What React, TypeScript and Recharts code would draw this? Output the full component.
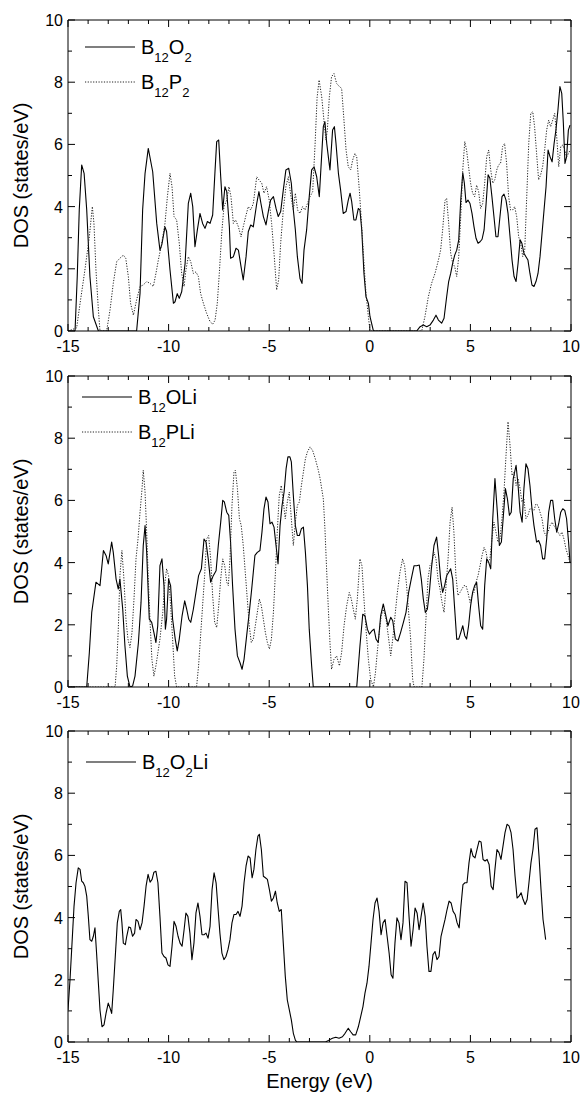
import React from "react";
import { LineChart, Line, XAxis, YAxis, Legend } from "recharts";

const FONT = "'Liberation Sans', Arial, Helvetica, sans-serif";

// axes
const energyTicks = [-15, -14, -13, -12, -11, -10, -9, -8, -7, -6, -5, -4, -3, -2, -1, 0, 1, 2, 3, 4, 5, 6, 7, 8, 9, 10];
const energyLabels = [-15, -10, -5, 0, 5, 10];
const dosTicks = [0, 1, 2, 3, 4, 5, 6, 7, 8, 9, 10];
const dosLabels = [0, 2, 4, 6, 8, 10];

// [energy (eV), DOS (states/eV)]
const b12o2 = [
  [-15, 0], [-14.65, 0], [-14.54, 1.75], [-14.44, 3.9], [-14.32, 5.34], [-14.2, 5.07], [-14.07, 3.9], [-13.91, 1.75],
  [-13.74, 0.46], [-13.49, 0], [-11.59, 0], [-11.42, 1.21], [-11.29, 3.9], [-11.17, 5.07], [-11.01, 5.87], [-10.79, 5.12],
  [-10.59, 3.46], [-10.43, 2.6], [-10.34, 2.77], [-10.18, 3.35], [-10.1, 3.2], [-9.93, 1.96], [-9.76, 0.89], [-9.68, 0.94],
  [-9.57, 1.2], [-9.47, 1.05], [-9.35, 1.26], [-9.18, 2.17], [-9.02, 4.1], [-8.9, 4.43], [-8.8, 4.0], [-8.69, 2.71],
  [-8.57, 3.25], [-8.44, 3.78], [-8.31, 3.46], [-8.19, 3.3], [-8.07, 3.52], [-7.94, 3.46], [-7.81, 3.73], [-7.69, 5.18],
  [-7.61, 6.09], [-7.51, 6.14], [-7.41, 4.96], [-7.31, 3.89], [-7.2, 4.64], [-7.11, 4.48], [-6.98, 3.35], [-6.92, 2.34],
  [-6.78, 2.39], [-6.65, 2.66], [-6.53, 2.6], [-6.4, 2.07], [-6.29, 1.64], [-6.15, 2.39], [-6.04, 3.19], [-5.92, 3.41],
  [-5.79, 3.35], [-5.62, 4.1], [-5.51, 4.48], [-5.41, 4.1], [-5.29, 3.68], [-5.16, 3.41], [-5.03, 3.89], [-4.93, 4.21],
  [-4.79, 4.32], [-4.66, 3.94], [-4.55, 3.68], [-4.43, 3.84], [-4.3, 4.53], [-4.17, 5.18], [-4.03, 5.23], [-3.9, 4.75],
  [-3.8, 3.89], [-3.7, 3.25], [-3.6, 2.39], [-3.47, 1.69], [-3.37, 1.53], [-3.27, 2.6], [-3.14, 3.25], [-3.01, 4.32],
  [-2.89, 5.18], [-2.77, 5.28], [-2.64, 4.96], [-2.51, 4.32], [-2.31, 6.57], [-2.23, 6.73], [-2.14, 6.03], [-2.06, 5.6],
  [-1.98, 5.18], [-1.85, 6.46], [-1.76, 6.57], [-1.68, 6.03], [-1.56, 5.07], [-1.45, 4.53], [-1.32, 3.78], [-1.18, 3.84],
  [-1.07, 4.21], [-0.98, 4.43], [-0.9, 4.16], [-0.79, 3.57], [-0.69, 3.57], [-0.57, 3.94], [-0.49, 3.89], [-0.4, 3.25],
  [-0.29, 1.85], [-0.19, 1.1], [-0.07, 0.89], [0.01, 0.46], [0.18, 0], [2.33, 0], [2.5, 0.14], [2.66, 0.19],
  [2.83, 0.14], [2.99, 0.19], [3.16, 0.35], [3.29, 0.51], [3.41, 0.35], [3.57, 0.25], [3.69, 0.41], [3.82, 1.1],
  [3.92, 1.59], [4.02, 1.85], [4.12, 2.18], [4.22, 2.44], [4.32, 2.6], [4.42, 2.93], [4.52, 4.21], [4.62, 5.09],
  [4.7, 4.75], [4.78, 4.13], [4.88, 4.21], [4.98, 4.1], [5.08, 3.78], [5.18, 3.35], [5.28, 2.98], [5.38, 2.82],
  [5.48, 2.87], [5.58, 2.95], [5.68, 3.25], [5.78, 4.1], [5.88, 5.02], [5.97, 4.91], [6.07, 4.32], [6.17, 3.68],
  [6.27, 3.03], [6.37, 3.03], [6.47, 3.68], [6.57, 4.32], [6.67, 4.4], [6.77, 4.21], [6.87, 3.78], [6.97, 3.03],
  [7.07, 2.28], [7.17, 1.75], [7.27, 1.59], [7.37, 2.18], [7.47, 2.93], [7.56, 2.82], [7.66, 2.5], [7.76, 2.39],
  [7.86, 2.28], [7.96, 1.85], [8.06, 1.48], [8.16, 1.43], [8.26, 1.59], [8.36, 1.85], [8.46, 2.39], [8.56, 3.14],
  [8.66, 3.89], [8.76, 4.64], [8.86, 5.82], [8.96, 5.6], [9.06, 5.44], [9.16, 6.03], [9.25, 6.46], [9.35, 7.1],
  [9.45, 7.86], [9.54, 7.64], [9.62, 6.68], [9.7, 5.39], [9.78, 5.6], [9.87, 6.46], [9.95, 6.62],
];

const b12p2 = [
  [-15, 0], [-14.57, 0.1], [-14.4, 0.89], [-14.16, 1.96], [-13.94, 3.03], [-13.79, 4.0], [-13.71, 3.46], [-13.61, 1.96],
  [-13.49, 0.68], [-13.41, 0], [-13.08, 0], [-12.91, 0.68], [-12.75, 1.53], [-12.58, 2.23], [-12.42, 2.34], [-12.25, 2.44],
  [-12.13, 2.34], [-12.0, 1.75], [-11.89, 0.89], [-11.75, 0.51], [-11.59, 1.0], [-11.42, 1.43], [-11.26, 1.48], [-11.09, 1.59],
  [-10.92, 1.53], [-10.76, 1.43], [-10.63, 1.85], [-10.51, 2.28], [-10.34, 2.82], [-10.18, 3.46], [-10.06, 4.32], [-9.93, 5.07],
  [-9.83, 4.64], [-9.73, 3.68], [-9.6, 3.57], [-9.47, 2.82], [-9.35, 1.85], [-9.23, 1.43], [-9.14, 1.96], [-9.02, 2.39],
  [-8.9, 2.23], [-8.77, 1.85], [-8.64, 1.9], [-8.52, 1.75], [-8.41, 1.21], [-8.27, 0.89], [-8.11, 0.57], [-7.94, 0.3],
  [-7.81, 0.22], [-7.69, 0.35], [-7.58, 0.89], [-7.48, 1.85], [-7.36, 3.14], [-7.25, 4.0], [-7.11, 4.21], [-7.0, 4.64],
  [-6.9, 4.32], [-6.78, 3.46], [-6.67, 3.57], [-6.53, 3.35], [-6.4, 3.03], [-6.29, 3.35], [-6.17, 3.68], [-6.04, 4.0],
  [-5.92, 3.89], [-5.79, 4.1], [-5.62, 4.96], [-5.51, 4.86], [-5.37, 4.75], [-5.26, 4.43], [-5.13, 4.64], [-5.0, 4.21],
  [-4.88, 3.46], [-4.76, 2.5], [-4.63, 1.32], [-4.53, 1.64], [-4.43, 2.82], [-4.3, 3.89], [-4.17, 4.64], [-4.05, 4.96],
  [-3.92, 4.32], [-3.8, 3.89], [-3.7, 4.43], [-3.59, 3.89], [-3.47, 3.78], [-3.34, 4.0], [-3.22, 3.89], [-3.1, 4.1],
  [-2.97, 4.32], [-2.84, 4.48], [-2.72, 6.0], [-2.62, 7.5], [-2.52, 8.07], [-2.39, 7.53], [-2.28, 6.78], [-2.18, 6.14],
  [-2.11, 6.46], [-2.01, 7.53], [-1.9, 8.18], [-1.78, 8.28], [-1.65, 7.96], [-1.51, 7.86], [-1.4, 7.8], [-1.32, 7.1],
  [-1.18, 5.82], [-1.07, 5.28], [-0.95, 5.18], [-0.85, 5.5], [-0.74, 5.71], [-0.65, 5.6], [-0.52, 4.53], [-0.4, 3.35],
  [-0.29, 2.18], [-0.19, 1.21], [-0.07, 0.46], [0.01, 0], [2.58, 0], [2.74, 0.46], [2.91, 1.1], [3.07, 1.53],
  [3.24, 1.85], [3.41, 2.28], [3.52, 2.6], [3.62, 3.25], [3.74, 4.21], [3.82, 4.26], [3.92, 3.46], [4.02, 2.5],
  [4.12, 2.18], [4.22, 2.07], [4.32, 1.75], [4.42, 2.39], [4.52, 3.68], [4.62, 5.18], [4.72, 6.09], [4.81, 5.82],
  [4.91, 5.28], [5.01, 4.75], [5.11, 4.43], [5.21, 4.32], [5.31, 4.69], [5.41, 4.48], [5.51, 3.94], [5.61, 4.1],
  [5.71, 4.75], [5.81, 5.6], [5.91, 5.82], [6.01, 5.18], [6.11, 4.75], [6.21, 4.86], [6.31, 5.18], [6.4, 5.34],
  [6.5, 5.39], [6.6, 5.93], [6.7, 6.03], [6.8, 5.39], [6.9, 4.32], [7.0, 3.89], [7.1, 3.89], [7.2, 4.0],
  [7.3, 3.68], [7.4, 3.03], [7.5, 2.82], [7.6, 2.39], [7.7, 2.6], [7.8, 4.32], [7.9, 6.03], [8.0, 7.0],
  [8.1, 7.05], [8.19, 6.57], [8.29, 5.71], [8.39, 4.86], [8.49, 5.02], [8.59, 5.28], [8.69, 5.82], [8.79, 6.46],
  [8.89, 6.78], [8.99, 6.57], [9.09, 6.78], [9.19, 7.0], [9.29, 6.25], [9.39, 5.28], [9.49, 5.93], [9.59, 5.98],
  [9.69, 5.82], [9.78, 5.6], [9.88, 5.71], [9.95, 5.82],
];

const b12oli = [
  [-15, 0], [-14.07, 0], [-13.94, 1.1], [-13.82, 2.4], [-13.61, 3.37], [-13.41, 3.26], [-13.24, 4.39], [-13.11, 4.23],
  [-13.0, 3.96], [-12.83, 4.66], [-12.75, 4.33], [-12.61, 3.47], [-12.5, 3.15], [-12.42, 3.47], [-12.28, 2.5], [-12.17, 1.32],
  [-12.05, 0.35], [-11.92, 0], [-11.79, 0.03], [-11.67, 0.35], [-11.5, 1.43], [-11.37, 2.72], [-11.26, 4.55], [-11.17, 5.19],
  [-11.09, 4.33], [-10.96, 2.18], [-10.84, 2.08], [-10.73, 1.75], [-10.63, 1.43], [-10.54, 1.97], [-10.43, 3.9], [-10.33, 4.12],
  [-10.23, 3.26], [-10.16, 1.86], [-10.1, 2.18], [-10.0, 3.47], [-9.9, 3.26], [-9.8, 2.18], [-9.67, 1.54], [-9.57, 1.16],
  [-9.47, 1.54], [-9.33, 2.29], [-9.2, 2.77], [-9.1, 2.5], [-9.0, 2.18], [-8.9, 2.08], [-8.77, 2.5], [-8.64, 3.04],
  [-8.51, 3.58], [-8.37, 3.8], [-8.24, 4.76], [-8.14, 4.66], [-8.03, 4.12], [-7.91, 3.37], [-7.78, 3.58], [-7.64, 3.74],
  [-7.53, 4.55], [-7.41, 5.3], [-7.31, 6.0], [-7.23, 5.95], [-7.11, 5.62], [-7.01, 5.52], [-6.92, 4.66], [-6.82, 3.26],
  [-6.7, 1.86], [-6.58, 1.0], [-6.45, 0.78], [-6.35, 0.57], [-6.25, 0.89], [-6.12, 1.65], [-5.99, 2.4], [-5.87, 3.15],
  [-5.79, 3.69], [-5.71, 4.23], [-5.59, 4.33], [-5.46, 4.39], [-5.36, 4.98], [-5.26, 5.73], [-5.16, 6.11], [-5.06, 5.95],
  [-4.96, 5.25], [-4.86, 5.3], [-4.76, 5.14], [-4.66, 4.55], [-4.56, 3.96], [-4.46, 5.19], [-4.36, 5.84], [-4.26, 6.27],
  [-4.16, 7.02], [-4.07, 7.4], [-3.97, 7.4], [-3.9, 7.24], [-3.8, 6.16], [-3.7, 5.19], [-3.6, 4.87], [-3.5, 4.87],
  [-3.4, 5.09], [-3.3, 5.14], [-3.2, 4.33], [-3.1, 3.26], [-3.01, 1.86], [-2.89, 0.68], [-2.81, 0], [-0.65, 0],
  [-0.49, 1.32], [-0.35, 2.34], [-0.24, 2.29], [-0.12, 1.86], [-0.02, 1.7], [0.11, 1.81], [0.21, 1.86], [0.31, 1.54],
  [0.42, 1.43], [0.54, 2.29], [0.67, 2.67], [0.8, 2.29], [0.9, 1.97], [1.04, 2.24], [1.14, 2.13], [1.27, 1.54],
  [1.4, 1.48], [1.53, 1.75], [1.67, 2.08], [1.8, 2.4], [1.93, 3.04], [2.06, 3.47], [2.2, 3.9], [2.33, 3.9],
  [2.46, 3.92], [2.56, 3.47], [2.66, 2.83], [2.76, 2.4], [2.86, 2.5], [2.96, 3.04], [3.06, 3.8], [3.19, 4.55],
  [3.32, 4.82], [3.42, 4.23], [3.52, 3.47], [3.62, 3.04], [3.72, 3.26], [3.82, 3.58], [3.92, 3.69], [4.02, 3.8],
  [4.12, 3.47], [4.22, 2.5], [4.32, 1.54], [4.42, 1.54], [4.52, 1.75], [4.62, 1.97], [4.72, 1.65], [4.81, 1.54],
  [4.91, 1.97], [5.01, 2.61], [5.11, 3.04], [5.21, 3.26], [5.31, 3.37], [5.41, 2.61], [5.51, 1.97], [5.61, 1.86],
  [5.71, 3.26], [5.81, 4.12], [5.91, 4.01], [6.01, 3.8], [6.11, 5.41], [6.22, 6.7], [6.34, 5.62], [6.44, 4.55],
  [6.54, 4.66], [6.64, 5.52], [6.74, 6.38], [6.84, 6.05], [6.94, 5.52], [7.03, 5.62], [7.13, 6.7], [7.27, 7.13],
  [7.37, 6.48], [7.47, 5.62], [7.57, 5.3], [7.66, 6.38], [7.76, 7.18], [7.86, 7.02], [7.96, 6.48], [8.06, 5.73],
  [8.16, 5.19], [8.29, 4.66], [8.39, 4.71], [8.49, 4.55], [8.59, 4.12], [8.69, 4.12], [8.79, 4.76], [8.89, 5.62],
  [8.99, 6.0], [9.09, 6.0], [9.19, 5.41], [9.29, 4.98], [9.39, 5.25], [9.49, 5.62], [9.59, 5.73], [9.69, 5.68],
  [9.78, 5.41], [9.88, 4.66], [9.95, 4.01],
];

const b12pli = [
  [-15, 0], [-12.66, 0], [-12.58, 0.68], [-12.5, 1.86], [-12.42, 3.58], [-12.32, 4.39], [-12.22, 3.47], [-12.12, 2.18],
  [-12.02, 1.54], [-11.92, 1.27], [-11.82, 1.75], [-11.72, 2.83], [-11.62, 4.12], [-11.52, 4.76], [-11.42, 5.62], [-11.32, 6.38],
  [-11.26, 6.97], [-11.17, 6.27], [-11.09, 4.98], [-11.01, 3.47], [-10.92, 2.08], [-10.83, 0.89], [-10.73, 0.35], [-10.63, 0.68],
  [-10.53, 1.11], [-10.43, 1.54], [-10.29, 2.4], [-10.2, 3.26], [-10.1, 3.8], [-10.0, 3.58], [-9.9, 2.61], [-9.8, 1.54],
  [-9.7, 0.35], [-9.6, 0], [-8.61, 0], [-8.51, 0.68], [-8.41, 1.65], [-8.31, 2.61], [-8.21, 3.58], [-8.11, 4.76],
  [-8.01, 4.87], [-7.91, 4.12], [-7.81, 2.94], [-7.71, 2.08], [-7.61, 1.91], [-7.51, 2.61], [-7.41, 3.47], [-7.31, 4.12],
  [-7.21, 3.9], [-7.11, 3.37], [-7.03, 3.26], [-6.95, 4.12], [-6.85, 5.84], [-6.75, 6.91], [-6.68, 6.97], [-6.58, 6.38],
  [-6.48, 5.41], [-6.39, 5.19], [-6.29, 4.55], [-6.19, 3.69], [-6.09, 2.83], [-5.99, 1.97], [-5.89, 1.43], [-5.79, 1.54],
  [-5.69, 1.97], [-5.59, 2.4], [-5.49, 2.83], [-5.39, 2.61], [-5.29, 2.18], [-5.19, 1.75], [-5.09, 1.43], [-4.99, 1.22],
  [-4.89, 1.54], [-4.79, 2.4], [-4.69, 3.69], [-4.6, 4.98], [-4.5, 6.16], [-4.4, 6.48], [-4.3, 5.95], [-4.2, 5.41],
  [-4.1, 5.95], [-4.0, 6.27], [-3.9, 5.41], [-3.8, 4.55], [-3.7, 5.3], [-3.6, 5.84], [-3.5, 5.95], [-3.4, 6.48],
  [-3.3, 6.91], [-3.2, 7.34], [-3.1, 7.56], [-2.97, 7.72], [-2.84, 7.6], [-2.71, 7.34], [-2.57, 7.0], [-2.47, 6.7],
  [-2.31, 6.05], [-2.23, 5.09], [-2.14, 3.69], [-2.06, 2.5], [-1.98, 1.43], [-1.9, 0.57], [-1.78, 0.89], [-1.65, 1.0],
  [-1.51, 0.68], [-1.4, 1.11], [-1.28, 1.97], [-1.15, 2.61], [-1.02, 3.04], [-0.92, 2.83], [-0.82, 2.5], [-0.72, 2.18],
  [-0.62, 2.83], [-0.49, 4.12], [-0.39, 3.9], [-0.29, 2.83], [-0.19, 1.86], [-0.07, 0.89], [0.04, 0.25], [0.18, 0],
  [0.28, 0.46], [0.37, 1.11], [0.47, 1.75], [0.57, 2.29], [0.67, 2.5], [0.81, 2.18], [0.94, 1.54], [1.04, 1.0],
  [1.14, 1.54], [1.27, 2.4], [1.37, 3.04], [1.5, 3.69], [1.63, 4.12], [1.73, 3.9], [1.83, 3.26], [1.93, 2.4],
  [2.03, 1.54], [2.13, 0.25], [2.2, 0], [2.59, 0], [2.69, 0.89], [2.79, 2.18], [2.89, 3.47], [2.99, 3.9],
  [3.09, 4.01], [3.19, 4.33], [3.29, 4.12], [3.39, 3.47], [3.49, 3.15], [3.59, 2.72], [3.69, 2.4], [3.79, 3.26],
  [3.89, 4.12], [3.99, 5.3], [4.09, 5.78], [4.18, 4.98], [4.28, 3.58], [4.38, 2.94], [4.48, 3.04], [4.58, 3.15],
  [4.68, 3.26], [4.78, 3.26], [4.88, 3.04], [4.98, 2.72], [5.08, 2.94], [5.18, 3.04], [5.28, 3.37], [5.38, 3.58],
  [5.48, 3.9], [5.58, 4.23], [5.68, 4.49], [5.78, 4.33], [5.87, 4.01], [5.97, 4.12], [6.07, 4.76], [6.17, 5.3],
  [6.27, 4.98], [6.37, 4.66], [6.47, 4.76], [6.57, 5.41], [6.67, 6.27], [6.77, 7.45], [6.87, 8.53], [6.97, 7.77],
  [7.07, 6.8], [7.17, 6.91], [7.27, 6.48], [7.37, 6.7], [7.47, 6.38], [7.56, 5.95], [7.66, 6.05], [7.76, 5.41],
  [7.86, 5.52], [7.96, 5.73], [8.06, 5.73], [8.16, 5.68], [8.26, 5.89], [8.36, 5.84], [8.46, 5.62], [8.56, 5.41],
  [8.66, 4.98], [8.76, 4.87], [8.86, 4.98], [8.96, 5.19], [9.06, 5.3], [9.15, 5.19], [9.25, 5.09], [9.35, 4.98],
  [9.45, 4.87], [9.55, 4.98], [9.65, 4.76], [9.75, 4.44], [9.85, 4.23], [9.95, 4.01],
];

const b12o2li = [
  [-15, 1.03], [-14.9, 2.0], [-14.8, 3.18], [-14.7, 4.37], [-14.6, 5.12], [-14.49, 5.6], [-14.4, 5.55], [-14.32, 5.17],
  [-14.24, 5.12], [-14.16, 5.01], [-14.07, 4.69], [-13.99, 4.04], [-13.91, 3.29], [-13.82, 3.24], [-13.74, 3.4], [-13.66, 3.67],
  [-13.58, 2.86], [-13.49, 1.89], [-13.41, 1.03], [-13.31, 0.49], [-13.21, 0.55], [-13.11, 0.92], [-13.0, 1.25], [-12.91, 1.09],
  [-12.83, 0.92], [-12.75, 1.68], [-12.65, 2.75], [-12.55, 3.83], [-12.45, 4.2], [-12.38, 4.26], [-12.32, 3.83], [-12.25, 3.18],
  [-12.15, 3.13], [-12.08, 3.4], [-11.98, 3.7], [-11.89, 3.67], [-11.79, 3.4], [-11.69, 3.5], [-11.62, 3.94], [-11.52, 3.88],
  [-11.42, 3.61], [-11.32, 3.83], [-11.22, 4.37], [-11.12, 5.01], [-11.02, 5.39], [-10.92, 5.14], [-10.82, 5.23], [-10.73, 5.46],
  [-10.63, 5.49], [-10.53, 5.12], [-10.43, 4.04], [-10.33, 2.86], [-10.23, 2.75], [-10.13, 2.7], [-10.03, 2.48], [-9.93, 2.43],
  [-9.83, 3.08], [-9.73, 3.88], [-9.63, 3.72], [-9.53, 3.4], [-9.43, 3.18], [-9.33, 3.08], [-9.23, 3.61], [-9.14, 4.15],
  [-9.04, 4.04], [-8.94, 3.5], [-8.84, 2.65], [-8.74, 3.18], [-8.64, 4.15], [-8.54, 4.47], [-8.44, 4.04], [-8.34, 3.45],
  [-8.24, 3.45], [-8.14, 3.5], [-8.04, 3.34], [-7.94, 3.72], [-7.84, 4.9], [-7.74, 5.44], [-7.64, 5.12], [-7.54, 4.26],
  [-7.45, 3.5], [-7.35, 2.86], [-7.25, 2.65], [-7.15, 2.75], [-7.05, 2.97], [-6.95, 3.29], [-6.85, 3.83], [-6.75, 4.1],
  [-6.65, 4.1], [-6.55, 4.2], [-6.45, 4.04], [-6.35, 4.37], [-6.25, 5.12], [-6.15, 5.66], [-6.05, 5.98], [-5.95, 5.92],
  [-5.85, 5.28], [-5.76, 5.55], [-5.66, 6.19], [-5.56, 6.62], [-5.49, 6.68], [-5.39, 6.19], [-5.29, 5.33], [-5.19, 5.28],
  [-5.09, 5.23], [-4.99, 4.9], [-4.89, 4.53], [-4.79, 4.63], [-4.69, 4.85], [-4.6, 4.47], [-4.5, 4.2], [-4.4, 4.26],
  [-4.3, 3.18], [-4.2, 2.11], [-4.1, 1.35], [-4.0, 1.03], [-3.9, 0.71], [-3.8, 0.28], [-3.7, 0.06], [-3.63, 0],
  [-2.2, 0], [-2.03, 0.06], [-1.86, 0.12], [-1.69, 0.15], [-1.53, 0.12], [-1.36, 0.17], [-1.23, 0.28], [-1.07, 0.44],
  [-0.95, 0.33], [-0.83, 0.23], [-0.7, 0.23], [-0.57, 0.49], [-0.45, 0.82], [-0.34, 1.14], [-0.24, 1.57], [-0.14, 1.89],
  [-0.04, 2.43], [0.06, 3.18], [0.16, 3.94], [0.26, 4.47], [0.36, 4.63], [0.46, 4.2], [0.56, 3.45], [0.66, 3.83],
  [0.76, 3.94], [0.86, 3.4], [0.96, 2.86], [1.06, 2.16], [1.15, 2.05], [1.25, 3.18], [1.35, 3.99], [1.45, 3.83],
  [1.55, 3.29], [1.65, 3.83], [1.75, 5.17], [1.85, 5.12], [1.95, 4.04], [2.05, 3.08], [2.15, 3.61], [2.25, 4.31],
  [2.35, 4.15], [2.45, 3.61], [2.55, 4.04], [2.65, 4.47], [2.75, 4.04], [2.84, 3.08], [2.94, 2.27], [3.04, 2.27],
  [3.14, 2.81], [3.24, 2.91], [3.34, 2.65], [3.44, 2.75], [3.54, 3.4], [3.64, 3.67], [3.74, 3.94], [3.84, 4.26],
  [3.94, 4.53], [4.04, 4.47], [4.14, 4.2], [4.24, 4.1], [4.34, 3.83], [4.44, 3.67], [4.53, 4.37], [4.63, 5.06],
  [4.73, 5.12], [4.83, 5.12], [4.93, 5.76], [5.03, 6.22], [5.13, 5.98], [5.23, 5.92], [5.33, 6.19], [5.43, 6.46],
  [5.53, 6.43], [5.63, 5.87], [5.73, 5.82], [5.83, 5.87], [5.93, 5.71], [6.03, 5.01], [6.13, 4.9], [6.22, 5.55],
  [6.32, 6.19], [6.42, 6.09], [6.52, 5.87], [6.62, 6.3], [6.72, 6.73], [6.82, 7.0], [6.92, 6.95], [7.02, 6.73],
  [7.12, 6.19], [7.22, 5.33], [7.32, 4.63], [7.42, 4.69], [7.52, 4.8], [7.62, 4.58], [7.72, 4.42], [7.82, 4.58],
  [7.91, 5.12], [8.01, 5.76], [8.11, 6.19], [8.21, 6.84], [8.31, 6.89], [8.41, 5.98], [8.51, 4.9], [8.61, 3.94],
  [8.68, 3.61], [8.74, 3.29],
];

type Series = { name: string; points: number[][]; dotted?: boolean };

const PLOT_TOP = 20; // inside each chart
const PLOT_H = 311;
const SOLID = "#000";
const DOTTED = "#222";
const DASH = "1.2 1.5";

function BottomTick(props: any) {
  const { x, y, payload } = props;
  const major = energyLabels.includes(payload.value);
  return (
    <g>
      <line x1={x} y1={y} x2={x} y2={y - (major ? 7 : 4)} stroke="#000" />
      {major && (
        <text x={x} y={y + 21} textAnchor="middle" fontSize={16} fontFamily={FONT} fill="#000">
          {payload.value}
        </text>
      )}
    </g>
  );
}

function TopTick(props: any) {
  const { x, y, payload } = props;
  const major = energyLabels.includes(payload.value);
  return <line x1={x} y1={y} x2={x} y2={y + (major ? 7 : 4)} stroke="#000" />;
}

function LeftTick(props: any) {
  const { x, y, payload } = props;
  const major = dosLabels.includes(payload.value);
  return (
    <g>
      <line x1={x} y1={y} x2={x + (major ? 7 : 4)} y2={y} stroke="#000" />
      {major && (
        <text x={x - 5} y={y + 6} textAnchor="end" fontSize={16} fontFamily={FONT} fill="#000">
          {payload.value}
        </text>
      )}
    </g>
  );
}

function RightTick(props: any) {
  const { x, y, payload } = props;
  const major = dosLabels.includes(payload.value);
  return <line x1={x} y1={y} x2={x - (major ? 7 : 4)} y2={y} stroke="#000" />;
}

function YTitle() {
  const cx = 21;
  const cy = PLOT_TOP + PLOT_H / 2;
  return (
    <text x={cx} y={cy} dy="0.36em" transform={`rotate(-90 ${cx} ${cy})`} textAnchor="middle"
      fontSize={20} fontFamily={FONT} fill="#000">
      DOS (states/eV)
    </text>
  );
}

function XTitle() {
  return (
    <text x={319.5} y={PLOT_TOP + PLOT_H + 46} textAnchor="middle" fontSize={20} fontFamily={FONT} fill="#000">
      Energy (eV)
    </text>
  );
}

// "B12O2Li" -> B, subscript 12, O, subscript 2, Li
function Formula({ name }: { name: string }) {
  const runs = name.match(/\d+|\D+/g) || [];
  let low = false;
  return (
    <>
      {runs.map((r, i) => {
        const sub = /\d/.test(r);
        const dy = sub && !low ? 8 : !sub && low ? -8 : 0;
        low = sub;
        return (
          <tspan key={i} fontSize={sub ? 13 : 20} dy={dy}>
            {r}
          </tspan>
        );
      })}
    </>
  );
}

function LegendBox({ series }: { series: Series[] }) {
  return (
    <svg width={200} height={series.length * 35} style={{ display: "block", overflow: "visible" }}>
      {series.map((s, i) => {
        const ly = 12 + i * 35;
        return (
          <g key={s.name}>
            <line x1={5} x2={55} y1={ly} y2={ly} stroke={s.dotted ? DOTTED : SOLID}
              strokeWidth={s.dotted ? 1 : 1.1} strokeDasharray={s.dotted ? DASH : undefined} />
            <text x={61} y={ly + 7} fontFamily={FONT} fill="#000">
              <Formula name={s.name} />
            </text>
          </g>
        );
      })}
    </svg>
  );
}

function Panel({ top, height, series, legendTop, legendLeft, xTitle }: {
  top: number; height: number; series: Series[]; legendTop: number; legendLeft: number; xTitle?: boolean;
}) {
  const bottomH = height - PLOT_TOP - PLOT_H;
  return (
    <div style={{ position: "absolute", left: 0, top }}>
      <LineChart width={583} height={height} margin={{ top: PLOT_TOP - 1, right: 11, bottom: 0, left: 0 }}>
        <XAxis xAxisId="b" type="number" dataKey="e" domain={[-15, 10]} allowDataOverflow ticks={energyTicks}
          interval={0} height={bottomH} tickSize={0} tickMargin={0} tickLine={false}
          axisLine={{ stroke: "#000" }} tick={(p: any) => <BottomTick {...p} />}
          label={xTitle ? <XTitle /> : undefined} />
        <XAxis xAxisId="t" orientation="top" type="number" dataKey="e" domain={[-15, 10]} allowDataOverflow
          ticks={energyTicks} interval={0} height={1} tickSize={0} tickMargin={0} tickLine={false}
          axisLine={{ stroke: "#000" }} tick={(p: any) => <TopTick {...p} />} />
        <YAxis yAxisId="l" type="number" domain={[0, 10]} allowDataOverflow ticks={dosTicks} interval={0}
          width={68} tickSize={0} tickMargin={0} tickLine={false} axisLine={{ stroke: "#000" }}
          tick={(p: any) => <LeftTick {...p} />} label={<YTitle />} />
        <YAxis yAxisId="r" orientation="right" type="number" domain={[0, 10]} allowDataOverflow ticks={dosTicks}
          interval={0} width={1} tickSize={0} tickMargin={0} tickLine={false} axisLine={{ stroke: "#000" }}
          tick={(p: any) => <RightTick {...p} />} />
        {series.map((s) => (
          <Line key={s.name} xAxisId="b" yAxisId="l" name={s.name} type="linear" dataKey="v"
            data={s.points.map(([e, v]) => ({ e, v }))}
            stroke={s.dotted ? DOTTED : SOLID} strokeWidth={s.dotted ? 1 : 1.1}
            strokeDasharray={s.dotted ? DASH : undefined} strokeLinejoin="round"
            dot={false} activeDot={false} isAnimationActive={false} />
        ))}
        <Legend layout="vertical" align="center" verticalAlign="middle"
          wrapperStyle={{ top: legendTop, left: legendLeft, width: 200 }}
          content={() => <LegendBox series={series} />} />
      </LineChart>
    </div>
  );
}

export default function App() {
  return (
    <div style={{ position: "absolute", left: 0, top: 0, width: 583, height: 1094, background: "#fff" }}>
      <Panel top={0} height={360} legendTop={35} legendLeft={80}
        series={[{ name: "B12O2", points: b12o2 }, { name: "B12P2", points: b12p2, dotted: true }]} />
      <Panel top={356} height={360} legendTop={29} legendLeft={77}
        series={[{ name: "B12OLi", points: b12oli }, { name: "B12PLi", points: b12pli, dotted: true }]} />
      <Panel top={711} height={383} legendTop={39} legendLeft={81} xTitle
        series={[{ name: "B12O2Li", points: b12o2li }]} />
    </div>
  );
}
